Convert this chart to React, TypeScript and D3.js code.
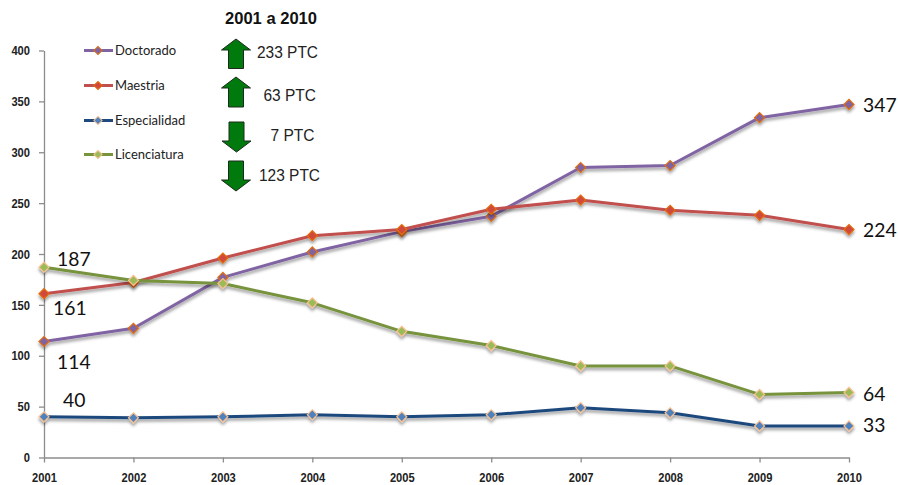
import React, { useEffect, useRef } from 'react'
import { select, scaleLinear, scalePoint, line, axisLeft, axisBottom, symbol, symbolSquare } from 'd3'

const years = ['2001', '2002', '2003', '2004', '2005', '2006', '2007', '2008', '2009', '2010']
const yTicks = [0, 50, 100, 150, 200, 250, 300, 350, 400]

const doctorado = [114, 127, 177, 202, 222, 237, 285, 287, 334, 347]
const maestria = [161, 172, 196, 218, 224, 244, 253, 243, 238, 224]
const especialidad = [40, 39, 40, 42, 40, 42, 49, 44, 31, 31]
const licenciatura = [187, 174, 171, 152, 124, 110, 90, 90, 62, 64]

const seriesNames = ['Doctorado', 'Maestria', 'Especialidad', 'Licenciatura']
const seriesValues = [doctorado, maestria, especialidad, licenciatura]
const lineColors = ['#8064a2', '#c0504d', '#1f497d', '#77933c']
const markerColors = ['#8064a2', '#d0483c', '#4f81bd', '#9bbb59']
const markerStrokes = ['#e46c0a', '#e46c0a', '#fac090', '#fac090']

const deltas = ['233 PTC', '63 PTC', '7 PTC', '123 PTC']
const deltaDirs = ['up', 'up', 'down', 'down']

// label text and where it sits next to the line
const endLabels = [
    { text: '187', x: 57, y: 266 },
    { text: '161', x: 53, y: 315 },
    { text: '114', x: 57, y: 369 },
    { text: '40', x: 63, y: 407 },
    { text: '347', x: 863, y: 112 },
    { text: '224', x: 863, y: 237 },
    { text: '64', x: 863, y: 401 },
    { text: '33', x: 863, y: 432 },
]

const config = {
    width: 898,
    height: 485,
    x0: 44,
    x1: 849,
    yTop: 50.5,
    yBottom: 457.5,
}

export default function App() {
    const ref = useRef<SVGSVGElement>(null)

    useEffect(() => {
        const svg = select(ref.current)
        svg.selectAll('*').remove()

        const xScale = scalePoint<string>().domain(years).range([config.x0, config.x1])
        const yScale = scaleLinear().domain([0, 400]).range([config.yBottom, config.yTop])

        const defs = svg.append('defs')
        const shadow = defs.append('filter').attr('id', 'shadow')
            .attr('x', '-10%').attr('y', '-10%').attr('width', '120%').attr('height', '130%')
        shadow.append('feDropShadow')
            .attr('dx', 0).attr('dy', 2.5).attr('stdDeviation', 1.4)
            .attr('flood-color', '#000').attr('flood-opacity', 0.4)

        // axes
        const yAxis = svg.append('g').attr('transform', `translate(${config.x0},0)`)
            .call(axisLeft(yScale).tickValues(yTicks).tickSize(5).tickPadding(9).tickSizeOuter(0))
        const xAxis = svg.append('g').attr('transform', `translate(0,${config.yBottom})`)
            .call(axisBottom(xScale).tickSize(5).tickPadding(10).tickSizeOuter(0))

        for (const axis of [yAxis, xAxis]) {
            axis.selectAll('path, line').attr('stroke', '#8c8c8c').attr('stroke-width', 1.3)
            axis.selectAll('text')
                .attr('fill', '#222')
                .attr('textLength', function () { return select(this).text().length * 6.2 })
                .attr('lengthAdjust', 'spacingAndGlyphs')
                .style('font-family', '"Liberation Sans", sans-serif')
                .style('font-weight', 'bold')
                .style('font-size', '13px')
        }

        // lines and markers
        const lineGen = line<number>()
            .x((d, i) => xScale(years[i]) as number)
            .y((d) => yScale(d))
        const diamond = symbol().type(symbolSquare).size(50)

        const seriesG = svg.selectAll('.series').data(seriesValues).join('g')
            .attr('class', 'series')
            .attr('filter', 'url(#shadow)')
        seriesG.append('path')
            .attr('d', (d) => lineGen(d))
            .attr('fill', 'none')
            .attr('stroke', (d, i) => lineColors[i])
            .attr('stroke-width', 3)
            .attr('stroke-linejoin', 'round')
        seriesG.each(function (values, s) {
            select(this).selectAll('.marker').data(values).join('path')
                .attr('class', 'marker')
                .attr('d', diamond())
                .attr('transform', (d, i) => `translate(${xScale(years[i])},${yScale(d)}) rotate(45)`)
                .attr('fill', markerColors[s])
                .attr('stroke', markerStrokes[s])
                .attr('stroke-width', 1.2)
        })

        // legend
        const legendRows = [50.5, 85.5, 120.5, 154.5]
        const legend = svg.selectAll('.legend').data(seriesNames).join('g')
            .attr('class', 'legend')
            .attr('transform', (d, i) => `translate(0,${legendRows[i]})`)
        legend.append('line')
            .attr('x1', 84).attr('x2', 113)
            .attr('stroke', (d, i) => lineColors[i])
            .attr('stroke-width', 3)
        legend.append('path')
            .attr('d', symbol().type(symbolSquare).size(34)())
            .attr('transform', 'translate(98,0) rotate(45)')
            .attr('fill', (d, i) => markerColors[i])
            .attr('stroke', (d, i) => markerStrokes[i])
            .attr('stroke-width', 1)
        legend.append('text')
            .text((d) => d)
            .attr('x', 115)
            .attr('y', 4.5)
            .attr('fill', '#222')
            .style('font-family', 'Lato, sans-serif')
            .style('font-size', '13px')

        // title and arrows
        svg.append('text')
            .text('2001 a 2010')
            .attr('x', 225)
            .attr('y', 24)
            .attr('fill', '#111')
            .attr('textLength', 92)
            .attr('lengthAdjust', 'spacingAndGlyphs')
            .style('font-family', '"Liberation Sans", sans-serif')
            .style('font-weight', 'bold')
            .style('font-size', '16.5px')

        const arrowBoxes = [
            { top: 39, bottom: 68.5, cx: 236 },
            { top: 77, bottom: 107, cx: 236 },
            { top: 122, bottom: 152, cx: 236.5 },
            { top: 161, bottom: 191, cx: 236 },
        ]
        const arrowPath = (b: { top: number, bottom: number, cx: number }, dir: string) => {
            const h = 11
            const wing = 14.5
            const shaft = 7.5
            if (dir === 'up') {
                return `M${b.cx},${b.top}L${b.cx + wing},${b.top + h}H${b.cx + shaft}V${b.bottom}H${b.cx - shaft}V${b.top + h}H${b.cx - wing}Z`
            }
            return `M${b.cx},${b.bottom}L${b.cx + wing},${b.bottom - h}H${b.cx + shaft}V${b.top}H${b.cx - shaft}V${b.bottom - h}H${b.cx - wing}Z`
        }
        svg.selectAll('.arrow').data(deltaDirs).join('path')
            .attr('class', 'arrow')
            .attr('d', (d, i) => arrowPath(arrowBoxes[i], d))
            .attr('fill', '#007a0c')
            .attr('stroke', '#1d2b1d')
            .attr('stroke-width', 1)

        const deltaX = [257, 263.5, 270.5, 259]
        const deltaY = [57.5, 101, 141, 181]
        svg.selectAll('.delta').data(deltas).join('text')
            .attr('class', 'delta')
            .text((d) => d)
            .attr('x', (d, i) => deltaX[i])
            .attr('y', (d, i) => deltaY[i])
            .attr('fill', '#222')
            .attr('textLength', (d) => 61 - (7 - d.length) * 8.5)
            .attr('lengthAdjust', 'spacingAndGlyphs')
            .style('font-family', '"Liberation Sans", sans-serif')
            .style('font-size', '16.5px')

        // values typed beside the lines
        svg.selectAll('.endlabel').data(endLabels).join('text')
            .attr('class', 'endlabel')
            .text((d) => d.text)
            .attr('x', (d) => d.x)
            .attr('y', (d) => d.y)
            .attr('fill', '#111')
            .attr('textLength', (d) => d.text.length * 11.2)
            .attr('lengthAdjust', 'spacingAndGlyphs')
            .style('font-family', 'Lato, sans-serif')
            .style('font-size', '20px')
    }, [])

    return (
        <svg
            ref={ref}
            width={config.width}
            height={config.height}
            style={{ position: 'absolute', left: 0, top: 0, background: '#fff' }}
        />
    )
}
